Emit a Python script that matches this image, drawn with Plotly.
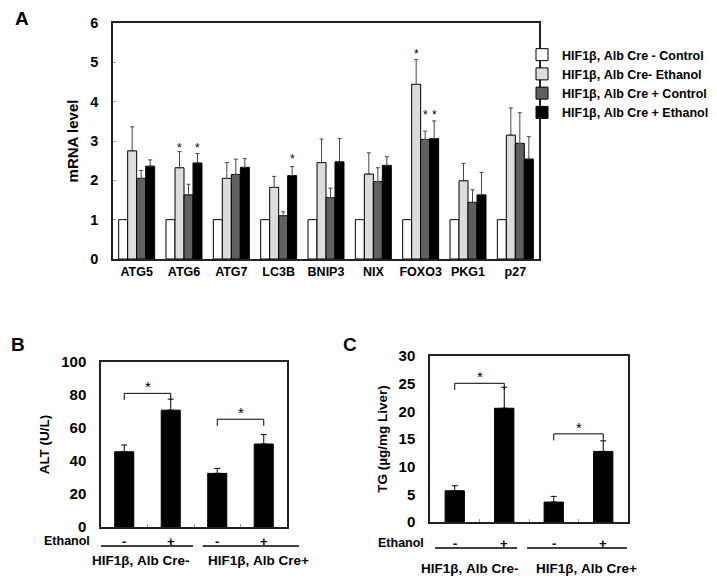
import plotly.graph_objects as go

# ---------------- Panel A data ----------------
genes = ["ATG5", "ATG6", "ATG7", "LC3B", "BNIP3", "NIX", "FOXO3", "PKG1", "p27"]
series_names = ["HIF1β, Alb Cre - Control", "HIF1β, Alb Cre- Ethanol",
                "HIF1β, Alb Cre + Control", "HIF1β, Alb Cre + Ethanol"]
ctrl_minus = [1, 1, 1, 1, 1, 1, 1, 1, 1]
etoh_minus = [2.75, 2.32, 2.05, 1.82, 2.45, 2.16, 4.44, 1.99, 3.15]
ctrl_plus = [2.05, 1.63, 2.15, 1.10, 1.56, 1.97, 3.04, 1.44, 2.94]
etoh_plus = [2.36, 2.44, 2.33, 2.12, 2.47, 2.38, 3.06, 1.63, 2.54]
err_etoh_minus = [0.61, 0.41, 0.40, 0.28, 0.60, 0.54, 0.63, 0.44, 0.69]
err_ctrl_plus = [0.20, 0.27, 0.39, 0.10, 0.24, 0.35, 0.21, 0.32, 0.78]
err_etoh_plus = [0.16, 0.24, 0.22, 0.23, 0.59, 0.22, 0.45, 0.57, 0.57]
# significance stars: (gene index, series index, star height)
stars_A = [(1, 1, 2.88), (1, 3, 2.88), (3, 3, 2.60), (6, 1, 5.27), (6, 2, 3.72), (6, 3, 3.72)]

# ---------------- Panel B / C data ----------------
groups = ["Cre- Ctrl", "Cre- EtOH", "Cre+ Ctrl", "Cre+ EtOH"]
ethanol_marks = ["-", "+", "-", "+"]
group_labels = ["HIF1β, Alb Cre-", "HIF1β, Alb Cre+"]
alt_vals = [45.6, 70.8, 32.5, 50.3]
alt_err = [4.1, 6.7, 3.0, 5.7]
alt_brackets = [81.0, 65.3]
tg_vals = [5.65, 20.56, 3.6, 12.75]
tg_err = [0.9, 3.8, 1.03, 1.92]
tg_brackets = [25.07, 15.93]

FONT = "Liberation Sans, Arial, sans-serif"
colors = ["#ffffff", "#dcdcdc", "#606060", "#000000"]

W = 717.0
H = 579.0
OFF = 8.0  # page body margin


def fx(px):
    return (px - OFF) / W


def fy(py):
    return 1 - (py - OFF) / H


domA_x, domA_y = [fx(113), fx(539)], [fy(259), fy(23)]
domB_x, domB_y = [fx(101), fx(287)], [fy(527), fy(362)]
domC_x, domC_y = [fx(430), fx(628)], [fy(522), fy(356)]
rngBC = [-0.5, 3.5]

fig = go.Figure()

valsA = [ctrl_minus, etoh_minus, ctrl_plus, etoh_plus]
errsA = [None, err_etoh_minus, err_ctrl_plus, err_etoh_plus]
for i in range(4):
    eb = None
    if errsA[i] is not None:
        eb = dict(type="data", array=errsA[i], symmetric=False,
                  arrayminus=[0] * len(genes), color="#444444", thickness=1, width=2)
    fig.add_trace(go.Bar(
        x=genes, y=valsA[i], name=series_names[i],
        marker=dict(color=colors[i], line=dict(color="black", width=1)),
        error_y=eb, xaxis="x", yaxis="y"))

fig.add_trace(go.Bar(x=groups, y=alt_vals, width=0.41, showlegend=False,
                     marker=dict(color="black", line=dict(color="black", width=1)),
                     error_y=dict(type="data", array=alt_err, symmetric=False,
                                  arrayminus=[0] * 4, color="black", thickness=1, width=3),
                     xaxis="x2", yaxis="y2"))
fig.add_trace(go.Bar(x=groups, y=tg_vals, width=0.39, showlegend=False,
                     marker=dict(color="black", line=dict(color="black", width=1)),
                     error_y=dict(type="data", array=tg_err, symmetric=False,
                                  arrayminus=[0] * 4, color="black", thickness=1, width=3),
                     xaxis="x3", yaxis="y3"))

annotations = []
shapes = []

# stars panel A
bargap = 0.24
bw = (1 - bargap) / 4
for g, s, ys in stars_A:
    xoff = -(1 - bargap) / 2 + bw * (s + 0.5)
    annotations.append(dict(x=g + xoff, y=ys, xref="x", yref="y",
                            text="*", showarrow=False, xanchor="center", yanchor="middle",
                            yshift=-2, font=dict(family=FONT, size=12, color="black")))


def px_x(dom, rng, v):
    return dom[0] + (v - rng[0]) / (rng[1] - rng[0]) * (dom[1] - dom[0])


def add_bc(axx, axy, brackets, drop, dom_x, line_segs, label_pos, y_pm, y_line, y_grp, eth_x):
    for k, (a, b) in enumerate([(0, 1), (2, 3)]):
        yb = brackets[k]
        for (x0, y0, x1, y1) in [(a, yb - drop, a, yb), (a, yb, b, yb), (b, yb, b, yb - drop)]:
            shapes.append(dict(type="line", xref=axx, yref=axy, x0=x0, y0=y0, x1=x1, y1=y1,
                               line=dict(color="black", width=1)))
        annotations.append(dict(x=(a + b) / 2, y=yb, xref=axx, yref=axy, text="*",
                                showarrow=False, xanchor="center", yanchor="bottom", yshift=-4,
                                font=dict(family=FONT, size=15, color="black")))
    for i, m in enumerate(ethanol_marks):
        annotations.append(dict(x=px_x(dom_x, rngBC, i), y=y_pm, xref="paper", yref="paper",
                                text=f"<b>{m}</b>", showarrow=False, xanchor="center",
                                yanchor="middle",
                                font=dict(family=FONT, size=13, color="black")))
    for (x0, x1) in line_segs:
        shapes.append(dict(type="line", xref="paper", yref="paper",
                           x0=px_x(dom_x, rngBC, x0), x1=px_x(dom_x, rngBC, x1),
                           y0=y_line, y1=y_line, line=dict(color="black", width=1.5)))
    for j, lab in enumerate(group_labels):
        annotations.append(dict(x=px_x(dom_x, rngBC, label_pos[j]), y=y_grp, xref="paper",
                                yref="paper", text=f"<b>{lab}</b>", showarrow=False,
                                xanchor="center", yanchor="middle",
                                font=dict(family=FONT, size=13.5, color="black")))
    annotations.append(dict(x=eth_x, y=y_pm, xref="paper", yref="paper", text="<b>Ethanol</b>",
                            showarrow=False, xanchor="center", yanchor="middle",
                            font=dict(family=FONT, size=12.5, color="black")))


add_bc("x2", "y2", alt_brackets, 4, domB_x, [(-0.5, 1.48), (1.69, 3.76)], [0.36, 2.88],
       fy(541), fy(546), fy(560), fx(67))
add_bc("x3", "y3", tg_brackets, 1.2, domC_x, [(-0.4, 1.26), (1.46, 3.48)], [0.31, 2.67],
       fy(543), fy(548), fy(568), fx(401))

for lab, (xx, yy) in [("A", (22, 18)), ("B", (18, 344)), ("C", (350, 344))]:
    annotations.append(dict(x=fx(xx), y=fy(yy), xref="paper", yref="paper",
                            text=f"<b>{lab}</b>", showarrow=False, xanchor="center",
                            yanchor="middle", font=dict(family=FONT, size=19, color="black")))

axis_common = dict(showline=True, mirror=True, linecolor="#222222", linewidth=1.5,
                   showgrid=False, zeroline=False, automargin=False)

fig.update_layout(
    template="none",
    width=717, height=579, autosize=False,
    margin=dict(l=0, r=0, t=0, b=0, pad=0),
    paper_bgcolor="white", plot_bgcolor="white",
    barmode="group", bargap=bargap, bargroupgap=0,
    font=dict(family=FONT, color="black"),
    xaxis=dict(domain=domA_x, anchor="y", type="category", ticks="",
               tickfont=dict(family=FONT, size=12.5, weight="bold"), **axis_common),
    yaxis=dict(domain=domA_y, anchor="x", range=[0, 6], dtick=1, ticks="inside", ticklen=3,
               tickcolor="#999999", ticklabelstandoff=10,
               tickfont=dict(family=FONT, size=14.5, weight="bold"),
               title=dict(text="mRNA level", standoff=8,
                          font=dict(family=FONT, size=15, weight="bold")), **axis_common),
    xaxis2=dict(domain=domB_x, anchor="y2", type="category", range=rngBC, showticklabels=False,
                ticks="inside", tickson="boundaries", ticklen=3, tickcolor="#999999",
                **axis_common),
    yaxis2=dict(domain=domB_y, anchor="x2", range=[0, 100], dtick=20, ticks="",
                ticklabelstandoff=10,
                tickfont=dict(family=FONT, size=15, weight="bold"),
                title=dict(text="ALT (U/L)", standoff=8,
                           font=dict(family=FONT, size=13.5, weight="bold")), **axis_common),
    xaxis3=dict(domain=domC_x, anchor="y3", type="category", range=rngBC, showticklabels=False,
                ticks="inside", tickson="boundaries", ticklen=3, tickcolor="#999999",
                **axis_common),
    yaxis3=dict(domain=domC_y, anchor="x3", range=[0, 30], dtick=5, ticks="",
                ticklabelstandoff=10,
                tickfont=dict(family=FONT, size=15, weight="bold"),
                title=dict(text="TG (µg/mg Liver)", standoff=8,
                           font=dict(family=FONT, size=13.5, weight="bold")), **axis_common),
    legend=dict(x=fx(522), y=fy(40), xanchor="left", yanchor="top",
                bgcolor="rgba(0,0,0,0)", itemwidth=30, tracegroupgap=0,
                font=dict(family=FONT, size=12.5, weight="bold", color="black")),
    annotations=annotations, shapes=shapes,
)

fig.write_html("out.html")
